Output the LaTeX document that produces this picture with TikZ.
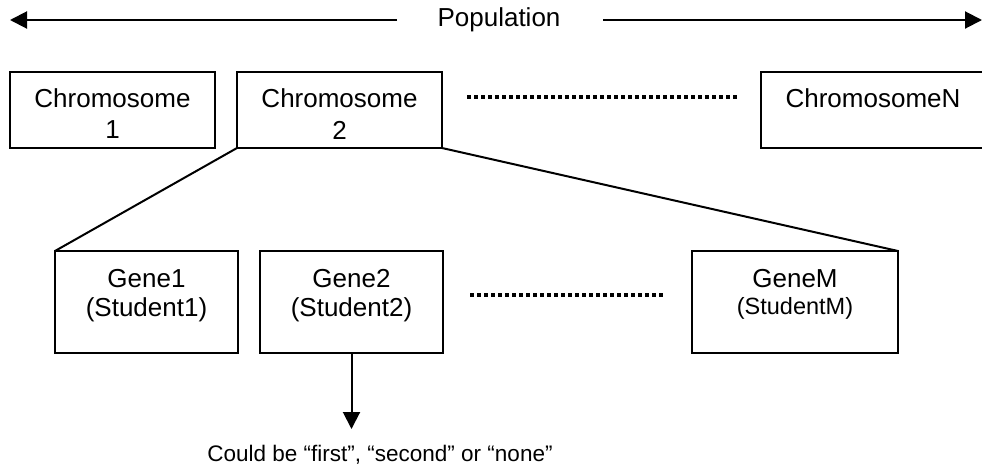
\documentclass[tikz,border=0pt]{standalone}
\usepackage{fontspec}
\setmainfont{Liberation Sans}
\usetikzlibrary{arrows.meta}
\begin{document}
\begin{tikzpicture}[x=1pt,y=-1pt,
  every node/.style={inner sep=0pt,outer sep=0pt},
  txt/.style={font=\fontsize{26}{31}\selectfont,align=center},
  smalltxt/.style={font=\fontsize{23.5}{28}\selectfont,align=center},
  notetxt/.style={font=\fontsize{22.5}{27}\selectfont},
  boxline/.style={draw=black,line width=2pt},
  link/.style={draw=black,line width=2pt},
  dots/.style={draw=black,line width=3.2pt,dash pattern=on 4pt off 3pt},
  arr/.style={draw=black,line width=2pt,-{Triangle[length=17pt,width=17pt]}}]
\useasboundingbox (0,0) rectangle (982,472);

% population arrow
\node[txt] (pop) at (499,20) {Population};
\coordinate (popLs) at (397,20);
\coordinate (popRs) at (603,20);
\coordinate (popL) at (10,20);
\coordinate (popR) at (982,20);
\draw[arr] (popLs) -- (popL);
\draw[arr] (popRs) -- (popR);

% chromosomes
\node[boxline,minimum width=205pt,minimum height=76pt] (c1) at (112.5,110) {};
\node[boxline,minimum width=205pt,minimum height=76pt] (c2) at (339.5,110) {};
\node[boxline,minimum width=229pt,minimum height=76pt] (cn) at (875.5,110) {};
\node[txt] at (112.5,98) {Chromosome};
\node[txt] at (112.5,130) {1};
\node[txt] at (339.5,98) {Chromosome};
\node[txt] at (339.5,130) {2};
\node[txt] at (873,98) {ChromosomeN};
\coordinate (cdotA) at (467,97);
\coordinate (cdotB) at (737,97);
\draw[dots] (cdotA) -- (cdotB);

% genes
\node[boxline,minimum width=183pt,minimum height=102pt] (g1) at (146.5,302) {};
\node[boxline,minimum width=183pt,minimum height=102pt] (g2) at (351.5,302) {};
\node[boxline,minimum width=206pt,minimum height=102pt] (gm) at (795,302) {};
\node[txt] at (146.5,279) {Gene1};
\node[txt] at (146.5,310) {(Student1)};
\node[txt] at (351.5,279) {Gene2};
\node[txt] at (351.5,310) {(Student2)};
\node[txt] at (795,279) {GeneM};
\node[smalltxt] at (795,308) {(StudentM)};
\coordinate (gdotA) at (470,295);
\coordinate (gdotB) at (665,295);
\draw[dots] (gdotA) -- (gdotB);

% expansion lines
\draw[link] (c2.south west) -- (g1.north west);
\draw[link] (c2.south east) -- (gm.north east);

% gene value
\node[notetxt] (val) at (380,455) {Could be “first”, “second” or “none”};
\coordinate (valtip) at (351.5,429);
\draw[arr] (g2.south) -- (valtip);
\end{tikzpicture}
\end{document}
